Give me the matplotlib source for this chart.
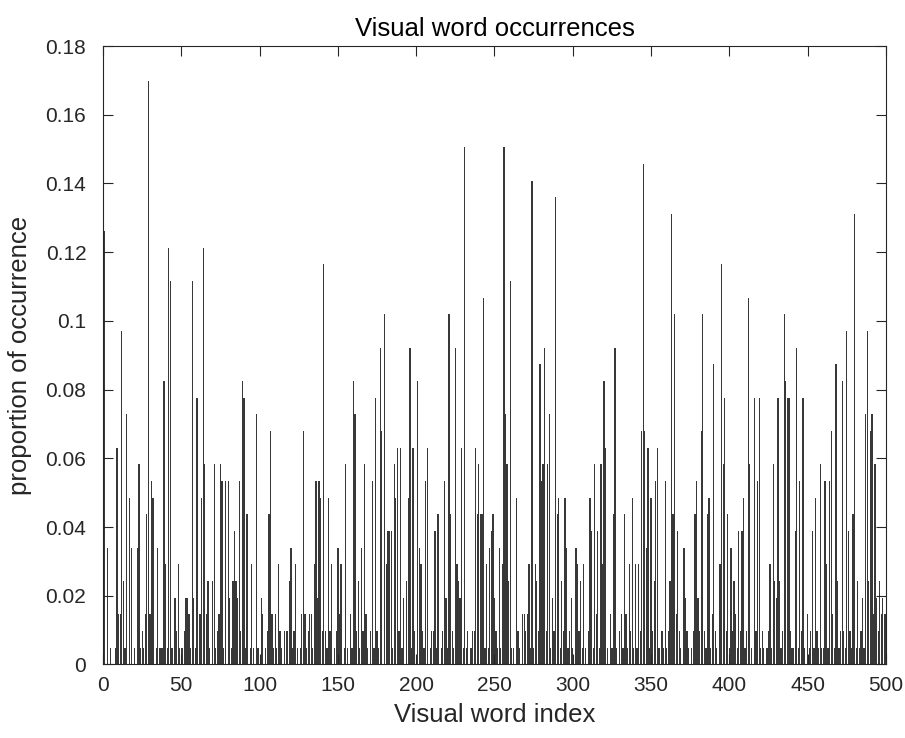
import numpy as np
import matplotlib
matplotlib.use("Agg")
import matplotlib.pyplot as plt

plt.rcParams['font.family'] = ['Liberation Sans', 'DejaVu Sans']

# Visual word indices 1..500 and the number of occurrences of each word
word_index = list(range(1, 501))
total_words = 206
counts = [
    26, 0, 7, 0, 1, 0, 0, 1, 13, 3,
    3, 20, 5, 1, 15, 0, 10, 7, 0, 1,
    0, 7, 12, 1, 2, 1, 3, 9, 35, 3,
    11, 10, 0, 1, 7, 1, 1, 1, 17, 6,
    1, 25, 23, 1, 0, 4, 2, 6, 1, 1,
    1, 2, 4, 4, 3, 1, 23, 4, 1, 16,
    0, 3, 10, 25, 12, 3, 5, 1, 0, 5,
    12, 1, 2, 3, 12, 11, 1, 11, 0, 11,
    4, 1, 5, 8, 5, 4, 11, 2, 17, 16,
    1, 9, 0, 1, 6, 1, 0, 15, 1, 0,
    4, 3, 0, 1, 2, 9, 14, 3, 1, 3,
    1, 6, 2, 1, 0, 2, 2, 2, 5, 7,
    1, 2, 6, 1, 0, 1, 3, 14, 3, 1,
    2, 3, 3, 1, 6, 11, 4, 11, 10, 2,
    24, 2, 1, 10, 2, 6, 0, 1, 2, 7,
    3, 6, 0, 1, 12, 1, 0, 3, 1, 17,
    15, 2, 5, 1, 7, 2, 12, 3, 1, 0,
    2, 11, 1, 16, 2, 1, 19, 14, 0, 21,
    6, 8, 8, 8, 1, 12, 10, 13, 2, 13,
    1, 4, 0, 5, 10, 19, 1, 13, 2, 0,
    17, 7, 6, 2, 1, 11, 13, 0, 1, 2,
    2, 8, 1, 9, 0, 1, 2, 11, 4, 1,
    21, 9, 2, 1, 19, 6, 5, 4, 13, 1,
    31, 1, 2, 0, 1, 2, 2, 13, 9, 12,
    9, 9, 22, 1, 6, 1, 7, 8, 9, 4,
    2, 1, 7, 1, 6, 31, 15, 12, 5, 23,
    1, 1, 0, 10, 2, 1, 0, 3, 3, 2,
    3, 6, 1, 29, 1, 6, 5, 2, 18, 11,
    12, 19, 2, 12, 15, 1, 4, 2, 28, 9,
    10, 1, 5, 2, 10, 7, 1, 2, 4, 1,
    0, 7, 6, 2, 5, 1, 6, 1, 0, 2,
    10, 8, 1, 12, 3, 8, 1, 12, 6, 17,
    13, 1, 0, 3, 1, 9, 19, 1, 0, 2,
    3, 1, 9, 3, 1, 6, 2, 10, 1, 6,
    1, 6, 2, 14, 30, 14, 7, 13, 1, 10,
    2, 5, 11, 13, 1, 0, 2, 1, 11, 1,
    2, 5, 27, 9, 21, 3, 8, 2, 1, 0,
    7, 4, 2, 1, 0, 1, 2, 9, 11, 4,
    2, 14, 21, 2, 1, 9, 10, 1, 3, 18,
    2, 1, 0, 6, 24, 12, 16, 2, 9, 1,
    7, 2, 5, 3, 1, 8, 2, 8, 10, 1,
    2, 22, 12, 1, 0, 16, 2, 11, 16, 1,
    2, 1, 0, 1, 2, 6, 1, 12, 5, 4,
    16, 5, 1, 2, 21, 17, 16, 16, 2, 1,
    1, 8, 19, 1, 11, 2, 16, 1, 0, 3,
    1, 2, 8, 1, 10, 2, 1, 12, 1, 1,
    11, 6, 1, 11, 14, 3, 1, 18, 5, 1,
    2, 17, 2, 1, 20, 8, 2, 1, 9, 27,
    1, 5, 1, 2, 4, 1, 15, 20, 5, 14,
    15, 3, 12, 4, 2, 5, 3, 4, 3, 3,
]
proportion = [c / total_words for c in counts]

x_ticks = [0, 50, 100, 150, 200, 250, 300, 350, 400, 450, 500]
y_ticks = [0, 0.02, 0.04, 0.06, 0.08, 0.1, 0.12, 0.14, 0.16, 0.18]
y_tick_labels = ['0', '0.02', '0.04', '0.06', '0.08', '0.1', '0.12', '0.14', '0.16', '0.18']

axis_color = '#262626'

fig = plt.figure(figsize=(9.05, 7.38), dpi=100)
ax = fig.add_axes([0.1138, 0.0996, 0.8652, 0.838])

ax.bar(word_index, proportion, width=0.8, color='#383838', linewidth=0)

ax.set_xlim(0, 500)
ax.set_ylim(0, 0.18)
ax.set_xticks(x_ticks)
ax.set_yticks(y_ticks)
ax.set_yticklabels(y_tick_labels)

ax.tick_params(direction='in', top=True, right=True, length=7, width=0.8,
               labelsize=15, colors=axis_color)
ax.tick_params(axis='y', pad=12)
ax.tick_params(axis='x', pad=8)
for s in ax.spines.values():
    s.set_color(axis_color)
    s.set_linewidth(0.8)

ax.set_title('Visual word occurrences', fontsize=18.5, color='black', pad=7)
ax.set_xlabel('Visual word index', fontsize=18.5, color=axis_color, labelpad=6)
ax.set_ylabel('proportion of occurrence', fontsize=18.5, color=axis_color, labelpad=10)

fig.savefig('out.png', dpi=100)
